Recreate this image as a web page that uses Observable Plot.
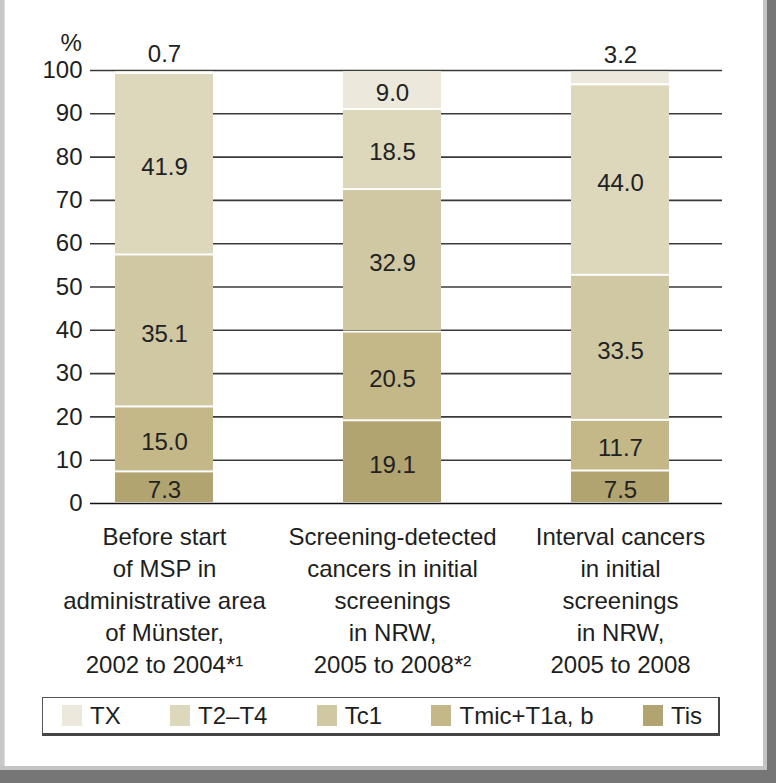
<!DOCTYPE html>
<html>
<head>
<meta charset="utf-8">
<script src="https://cdn.jsdelivr.net/npm/d3@7"></script>
<script src="https://cdn.jsdelivr.net/npm/@observablehq/plot@0.6"></script>
<style>
  html, body { margin: 0; padding: 0; background: #fff; }
  #page { position: relative; width: 776px; height: 783px; overflow: hidden; background: #fff;
          font-family: "Liberation Sans", Arial, sans-serif; color: #1e1e1e; }
  #chart { position: absolute; left: 0; top: 0; }
  #legend { position: absolute; left: 42px; top: 697px; width: 678px; height: 39px;
            border: 1px solid #555; border-bottom: 3px solid #444; border-right: 2px solid #444;
            display: flex; align-items: center; justify-content: space-between;
            padding: 0 16px 0 19px; box-sizing: border-box; font-size: 24px; }
  .item { display: flex; align-items: center; }
  .sw { width: 20px; height: 21px; margin-right: 8px; }
  .fl { position: absolute; left: 0; top: 0; width: 4px; height: 783px; background: #c8c8c8; border-right: 1px solid #dcdcdc; }
  .fr1 { position: absolute; left: 763px; top: 0; width: 4px; height: 770px; background: #c4c4c4; }
  .fr2 { position: absolute; left: 767px; top: 0; width: 9px; height: 783px; background: #767676; }
  .fb1 { position: absolute; left: 0; top: 766px; width: 767px; height: 4px; background: #c4c4c4; }
  .fb2 { position: absolute; left: 0; top: 770px; width: 776px; height: 13px; background: #767676; }
</style>
</head>
<body>
<div id="page">
  <div id="chart"></div>
  <div id="legend"></div>
  <div class="fl"></div>
  <div class="fr1"></div>
  <div class="fb1"></div>
  <div class="fr2"></div>
  <div class="fb2"></div>
</div>
<script>
// ---- data ----
const categories = ["before", "screening", "interval"];
const categoryLabels = [
  "Before start\nof MSP in\nadministrative area\nof Münster,\n2002 to 2004*¹",
  "Screening-detected\ncancers in initial\nscreenings\nin NRW,\n2005 to 2008*²",
  "Interval cancers\nin initial\nscreenings\nin NRW,\n2005 to 2008"
];
// stacking order, bottom to top
const series = ["Tis", "Tmic+T1a, b", "Tc1", "T2–T4", "TX"];
const seriesColors = ["#b2a470", "#c4b889", "#d0c8a2", "#ddd7bb", "#ece9dc"];
const beforeValues = [7.3, 15.0, 35.1, 41.9, 0.7];
const screeningValues = [19.1, 20.5, 32.9, 18.5, 9.0];
const intervalValues = [7.5, 11.7, 33.5, 44.0, 3.2];
const yTicks = [0, 10, 20, 30, 40, 50, 60, 70, 80, 90, 100];
const gridTicks = [10, 20, 30, 40, 50, 60, 70, 80, 90, 100];
const legendOrder = ["TX", "T2–T4", "Tc1", "Tmic+T1a, b", "Tis"];

const valuesByCat = [beforeValues, screeningValues, intervalValues];
const data = [];
categories.forEach((c, i) => {
  series.forEach((s, j) => data.push({cat: c, series: s, value: valuesByCat[i][j]}));
});
const labelOf = Object.fromEntries(categories.map((c, i) => [c, categoryLabels[i]]));

const font = "Liberation Sans, Arial, sans-serif";

const chart = Plot.plot({
  width: 776,
  height: 690,
  marginTop: 70,
  marginBottom: 187,
  marginLeft: 90,
  marginRight: 54,
  style: {fontFamily: font, fontSize: "24px", color: "#1e1e1e", overflow: "visible", background: "transparent"},
  x: {domain: categories, paddingInner: 0.572, paddingOuter: 0.166, align: 0.316, label: null},
  y: {domain: [0, 100], label: null},
  color: {domain: series, range: seriesColors},
  marks: [
    Plot.ruleY(gridTicks, {stroke: "#3a3a3a", strokeWidth: 1.6}),
    Plot.barY(data, Plot.stackY({x: "cat", y: "value", fill: "series", insetTop: 1, insetBottom: 1})),
    Plot.ruleY([0], {stroke: "#111", strokeWidth: 1.6}),
    Plot.text(data, Plot.stackY({x: "cat", y: "value", z: "series",
      text: d => d.value >= 5 ? d.value.toFixed(1) : null, fontSize: 24, fill: "#222", dy: 3})),
    Plot.text(data, Plot.stackY2({x: "cat", y: "value", z: "series",
      text: d => d.value < 5 ? d.value.toFixed(1) : null, fontSize: 24, fill: "#222", dy: -16})),
    Plot.axisY({ticks: yTicks, tickSize: 0, tickPadding: 8, fontSize: 24, label: null}),
    Plot.axisX({tickSize: 0, tickPadding: 19, fontSize: 24, lineHeight: 1.33, lineAnchor: "top",
      tickFormat: d => labelOf[d], label: null}),
    Plot.text(["%"], {frameAnchor: "top-left", dx: -30, dy: -37, fontSize: 24, fill: "#222"})
  ]
});
document.getElementById("chart").appendChild(chart);

const colorOf = Object.fromEntries(series.map((s, i) => [s, seriesColors[i]]));
const legend = document.getElementById("legend");
legendOrder.forEach(s => {
  const it = document.createElement("div");
  it.className = "item";
  const sw = document.createElement("span");
  sw.className = "sw";
  sw.style.background = colorOf[s];
  const tx = document.createElement("span");
  tx.textContent = s;
  it.appendChild(sw);
  it.appendChild(tx);
  legend.appendChild(it);
});
</script>
</body>
</html>
